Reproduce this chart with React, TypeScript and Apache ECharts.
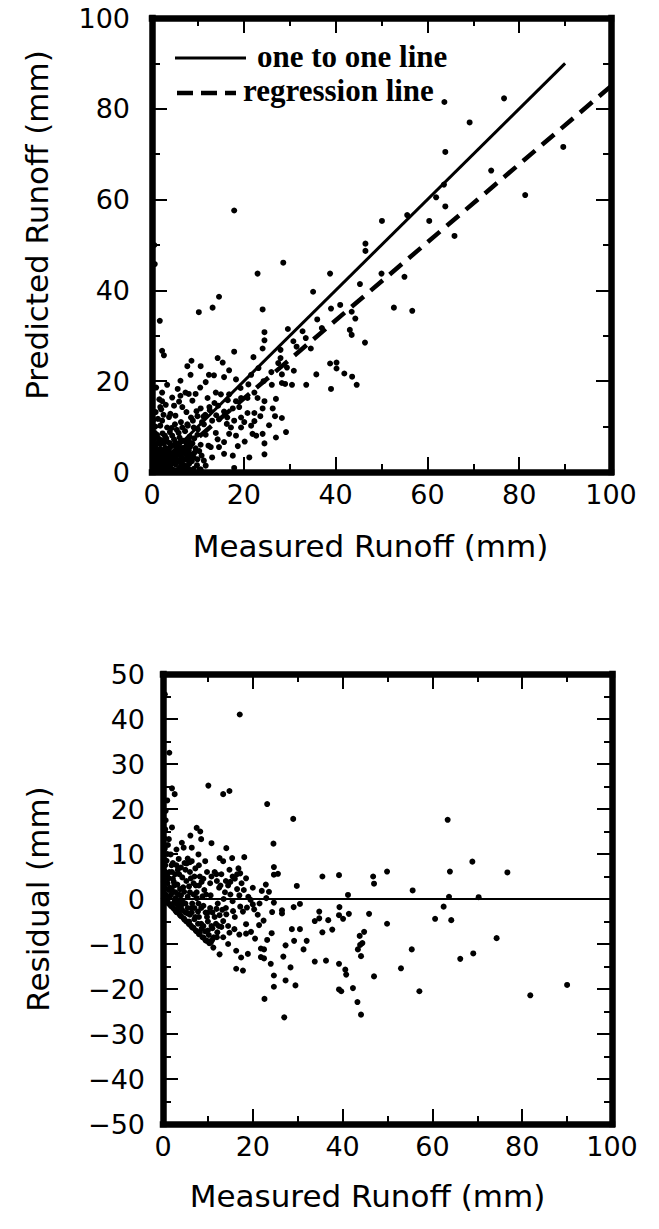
import React, { useEffect, useRef } from "react";
import * as echarts from "echarts";

// ---------- data ----------
// Top panel: [measured runoff, predicted runoff] (mm)
const topUpper: number[][] = [
  [17.9, 57.6], [63.7, 81.5], [76.7, 82.3], [69.2, 77.0], [63.9, 70.5], [89.6, 71.6],
  [73.9, 66.4], [81.3, 61.0], [63.6, 63.3], [63.9, 58.5], [61.9, 60.5], [60.4, 55.3],
  [55.6, 56.6], [50.1, 55.3], [65.9, 52.0], [46.5, 50.3], [46.5, 48.7], [50.0, 43.7],
  [55.0, 43.0], [52.7, 36.2], [56.7, 35.5], [0.5, 50.0], [0.6, 45.8],
];
const topMid: number[][] = [
  [28.6, 46.1], [23.0, 43.7], [38.8, 43.7], [35.1, 39.7], [45.3, 41.4], [14.6, 38.6],
  [13.2, 36.2], [10.2, 35.2], [24.1, 35.8], [1.7, 33.3], [41.0, 36.8], [39.0, 36.0],
  [43.5, 35.3], [44.3, 33.8], [43.1, 31.3], [43.5, 30.2], [46.4, 28.5], [29.6, 31.5],
  [24.5, 30.8], [24.5, 29.0], [24.1, 27.2], [17.9, 26.5], [2.2, 26.7], [2.6, 25.7],
  [22.1, 25.3], [23.2, 22.9], [28.0, 26.9], [28.0, 25.1], [34.6, 27.2], [28.3, 21.5],
  [29.4, 23.0], [30.9, 22.3], [14.3, 25.1], [15.4, 24.1], [16.8, 22.4], [15.7, 20.9],
  [10.6, 23.3], [7.7, 23.3], [8.4, 21.4], [6.2, 20.1], [12.4, 21.4], [13.5, 21.3],
  [18.3, 20.4], [21.6, 21.4], [38.8, 23.9], [40.2, 24.1], [40.2, 22.8], [41.9, 21.7],
  [43.6, 21.0], [44.6, 19.2], [39.0, 18.3], [35.8, 21.5], [33.6, 19.2], [28.3, 19.6],
  [29.0, 19.4], [30.5, 19.2], [26.1, 19.2], [24.3, 20.0], [26.0, 22.0], [27.5, 24.0],
  [31.5, 27.6], [33.5, 29.5], [37.0, 31.7], [36.0, 33.6], [32.8, 31.0], [30.8, 28.8],
];
const topLow: number[][] = [
  [2.2, 17.5], [4.4, 16.4], [7.3, 17.5], [6.2, 16.8], [8.0, 17.2], [9.5, 17.2],
  [8.8, 15.7], [6.6, 14.3], [5.1, 12.4], [3.7, 12.1], [1.8, 14.3], [2.2, 11.3],
  [12.1, 16.3], [13.9, 17.5], [15.0, 17.1], [16.8, 17.1], [18.3, 15.6], [19.4, 16.3],
  [20.8, 16.3], [22.3, 17.5], [23.0, 16.3], [24.5, 15.6], [27.0, 16.1], [26.3, 14.0],
  [24.1, 14.0], [22.3, 13.0], [20.8, 13.0], [23.6, 12.3], [26.8, 12.3], [28.3, 11.9],
  [17.6, 14.0], [15.7, 13.3], [14.0, 12.5], [12.6, 13.6], [10.6, 14.0], [9.9, 12.3],
  [8.5, 12.0], [7.7, 10.5], [9.1, 9.8], [11.3, 10.5], [13.1, 11.3], [14.6, 11.6],
  [16.4, 12.0], [17.9, 11.3], [19.4, 12.0], [17.2, 9.8], [16.8, 8.4], [18.3, 8.0],
  [19.4, 9.8], [20.1, 11.0], [21.6, 10.2], [21.9, 8.4], [22.7, 8.0], [24.1, 8.4],
  [24.5, 6.3], [27.0, 7.6], [29.2, 8.8], [18.7, 5.7], [17.6, 3.6], [24.5, 3.9],
  [21.2, 3.2], [17.9, 0.9], [13.6, 15.2], [11.2, 12.2], [14.4, 14.6], [16.5, 15.8],
  [19.3, 18.5], [21.0, 19.3], [12.3, 5.8], [10.3, 4.6], [14.3, 7.2], [16.3, 10.6],
  [19.0, 14.3], [20.2, 6.7], [22.3, 11.2], [25.5, 10.3], [10.5, 18.6], [11.7, 19.8],
  [8.6, 24.5], [3.3, 19.2], [5.6, 18.3], [0.9, 18.6], [1.6, 16.0],
];
const topCluster: number[][] = [
  [1.8, 6.2], [4.0, 5.5], [6.2, 6.6], [8.0, 7.0], [9.9, 8.2], [11.7, 8.2], [13.9, 8.6],
  [10.6, 6.0], [12.8, 5.5], [14.6, 5.5], [15.7, 6.6], [15.7, 4.0], [13.1, 3.2], [11.3, 2.5],
  [9.1, 3.2], [6.9, 2.8], [4.7, 2.5], [3.3, 4.0], [1.8, 2.5], [1.1, 1.1], [4.0, 0.7],
  [6.2, 1.1], [9.1, 0.7], [11.7, 1.4], [0.4, 4.0], [0.7, 10.0], [1.1, 8.2],
  [0.3, 0.3], [1.2, 0.4], [2.3, 0.3], [3.2, 0.6], [5.2, 0.4], [7.1, 0.3], [8.2, 0.5],
  [0.4, 1.3], [2.0, 1.4], [3.0, 1.5], [4.1, 1.6], [5.1, 1.7], [7.2, 1.4], [8.1, 1.8],
  [0.3, 2.3], [1.2, 2.2], [2.6, 2.4], [3.6, 2.5], [5.6, 2.6], [7.8, 2.6], [0.8, 3.2],
  [1.9, 3.4], [2.5, 3.3], [4.3, 3.4], [5.4, 3.6], [6.3, 3.5], [7.5, 3.8], [8.5, 3.9],
  [1.3, 4.4], [2.4, 4.6], [4.9, 4.5], [5.9, 4.7], [6.8, 4.2], [0.3, 5.2], [2.9, 5.3],
  [5.2, 5.5], [7.1, 5.4], [8.3, 5.6], [0.9, 6.0], [2.6, 6.3], [3.8, 6.4], [7.4, 6.5],
  [0.4, 7.1], [1.5, 7.3], [3.1, 7.4], [4.8, 7.2], [6.0, 7.6], [9.2, 7.4], [0.6, 8.6],
  [2.3, 8.5], [3.9, 8.8], [5.8, 8.6], [7.2, 9.0], [10.0, 9.4], [0.3, 11.5], [1.8, 10.2],
  [3.3, 9.8], [5.0, 10.5], [6.3, 11.0], [4.0, 12.8], [2.5, 12.6], [0.8, 13.2],
  [0.5, 0.8], [1.6, 0.9], [2.8, 0.9], [3.9, 1.1], [4.6, 0.5], [5.9, 0.8], [6.6, 0.4],
  [7.7, 1.0], [9.8, 1.5], [10.6, 0.6], [1.0, 1.8], [2.5, 1.9], [3.5, 2.0], [4.5, 2.1],
  [6.1, 2.1], [6.7, 1.7], [8.7, 2.4], [9.9, 2.8], [10.8, 3.6], [0.6, 2.8], [1.5, 2.9],
  [3.1, 2.9], [4.0, 2.9], [5.0, 3.0], [6.6, 3.0], [7.2, 2.8], [8.1, 3.1], [9.3, 4.3],
  [0.3, 3.7], [1.1, 3.9], [2.0, 4.1], [3.0, 4.3], [3.7, 4.6], [4.5, 4.0], [5.5, 4.2],
  [6.3, 4.4], [7.4, 4.6], [8.0, 4.8], [9.5, 5.2], [1.0, 5.0], [1.8, 5.1], [3.5, 5.1],
  [4.2, 5.9], [6.5, 5.3], [7.6, 5.9], [8.8, 6.3], [1.4, 6.6], [2.1, 7.0], [3.2, 6.8],
  [5.1, 6.5], [5.6, 5.8], [6.8, 6.9], [8.2, 7.8], [1.0, 7.8], [2.8, 8.0], [4.4, 8.0],
  [5.4, 9.3], [6.6, 9.8], [7.8, 10.2], [8.9, 11.3], [10.9, 11.0], [11.6, 12.6],
  [12.5, 14.3], [9.7, 13.4], [3.0, 14.8], [2.2, 15.6], [4.8, 14.6], [5.9, 15.5],
  [7.5, 13.2], [4.3, 9.7], [1.3, 11.7], [2.0, 13.8],
];

// Reference lines of the top panel
const oneToOneX = [0, 90];
const oneToOneY = [0, 90];
const regressionX = [2, 100];
const regressionY = [0.7, 85];

// Bottom panel: [measured runoff, residual] (mm)
const resOuter: number[][] = [
  [17.1, 41.0], [1.4, 32.5], [0.4, 45.5], [49.9, 6.1], [55.6, 1.9], [63.4, 17.6],
  [63.9, 6.1], [68.9, 8.3], [63.7, 0.5], [70.3, 0.4], [76.7, 5.9], [62.5, -1.7],
  [60.6, -4.4], [64.2, -4.7], [74.3, -8.7], [66.2, -13.3], [69.1, -12.1], [81.8, -21.4],
  [90.0, -19.1], [55.4, -11.2], [53.0, -15.4], [57.1, -20.5], [49.9, -5.5], [44.1, -25.7],
  [43.3, -22.9], [27.0, -26.3], [22.6, -22.2],
];
const resMid: number[][] = [
  [10.1, 25.2], [13.4, 23.3], [14.8, 24.0], [23.2, 21.1], [29.0, 17.8], [2.0, 24.6],
  [2.6, 23.3], [0.95, 21.9], [2.0, 15.9], [1.3, 13.3], [0.6, 19.6], [7.5, 15.8],
  [8.3, 15.0], [6.1, 14.1], [4.2, 12.5], [4.6, 11.4], [6.4, 11.4], [8.5, 13.3],
  [10.8, 12.4], [14.1, 11.3], [7.9, 9.9], [6.4, 8.4], [5.3, 7.9], [3.5, 8.9],
  [1.7, 9.9], [9.4, 8.4], [12.6, 9.1], [13.4, 8.4], [15.4, 9.1], [18.1, 9.3],
  [24.6, 12.3], [24.7, 7.1], [24.7, 5.4], [25.6, 5.6], [16.5, 5.5], [17.2, 5.7],
  [22.9, 3.2], [23.6, 1.6], [29.8, 2.9], [35.5, 5.0], [39.2, 5.3], [46.8, 5.0],
  [47.0, 3.4], [41.2, 0.9], [29.1, -1.8], [30.5, -1.1], [24.3, -2.9], [26.5, -2.5],
  [26.5, -3.2], [34.8, -2.8], [34.8, -4.3], [36.8, -4.7], [39.3, -1.8], [39.2, -3.6],
  [41.4, -3.3], [40.1, -4.4], [45.9, -3.3], [35.5, -7.4], [37.7, -6.8], [43.9, -10.2],
  [43.8, -8.2], [44.8, -7.3], [28.7, -6.7], [29.2, -9.3], [30.5, -6.7], [32.0, -9.3],
  [31.3, -11.2], [27.3, -10.3], [26.8, -12.8], [28.4, -15.2], [24.7, -17.0], [24.7, -19.5],
  [27.3, -18.1], [29.5, -19.2], [24.0, -14.4], [22.5, -11.2], [22.5, -13.2], [21.8, -11.0],
  [24.2, -7.6], [23.2, -9.1], [21.4, -5.8], [22.4, -4.8], [20.5, -8.8], [19.6, -7.3],
  [18.5, -5.6], [21.1, -3.5], [20.3, -2.3], [24.7, -0.8], [18.7, -1.9], [20.0, -1.2],
  [17.2, -1.7], [17.8, -2.8], [15.6, -2.7], [14.1, -3.4], [13.4, -4.9], [14.5, -6.0],
  [15.9, -6.7], [17.0, -7.9], [18.5, -7.7], [14.8, -7.5], [13.4, -8.5], [12.1, -7.4],
  [10.8, -9.3], [11.2, -10.8], [12.6, -12.3], [14.5, -10.0], [16.3, -11.5], [17.4, -13.0],
  [18.9, -12.2], [16.3, -15.5], [17.8, -15.9], [21.8, -12.9], [33.8, -13.9], [36.3, -13.7],
  [39.2, -14.4], [40.6, -15.7], [40.8, -16.8], [39.2, -20.1], [39.7, -20.5], [42.3, -19.8],
  [43.4, -11.2], [44.1, -12.7], [47.0, -17.2], [44.4, -9.8], [33.8, -4.9],
];
const resCluster: number[][] = [
  [0.2, 0.1], [0.3, 2.5], [0.4, 5.0], [0.5, 7.5], [0.3, -0.2], [0.6, 1.0], [0.8, -0.6],
  [1.0, 3.5], [1.2, -1.0], [1.4, 6.0], [1.5, 0.5], [1.8, -1.6], [2.0, 2.0], [2.2, 4.5],
  [2.5, -2.2], [2.6, -0.5], [2.8, 1.5], [3.0, -2.9], [3.2, 3.2], [3.5, -1.5], [3.6, 5.5],
  [3.8, -3.6], [4.0, 0.8], [4.3, -2.5], [4.5, 2.6], [4.8, -4.6], [5.0, -1.0], [5.2, 4.0],
  [5.5, -3.2], [5.8, -5.6], [6.0, 1.5], [6.3, -2.0], [6.5, -6.3], [6.8, 3.5], [7.0, -4.5],
  [7.3, -7.0], [7.5, 0.2], [7.8, -2.8], [8.0, -7.8], [8.2, 5.0], [8.5, -5.5], [8.8, -8.5],
  [9.0, -1.5], [9.2, 2.0], [9.5, -9.2], [9.8, -4.0], [10.0, -7.0], [10.3, -9.8], [10.6, 0.8],
  [11.0, -3.0], [11.3, -8.5], [11.8, -5.5], [12.2, -1.0], [12.5, 2.5], [13.0, -6.2],
  [13.5, 0.0], [14.0, -2.0], [15.0, 1.0], [16.0, -4.0], [16.5, 2.2], [19.0, 0.5],
  [21.5, -1.0], [23.0, 0.2], [1.0, 10.0], [2.2, 8.0], [3.0, 11.0], [4.0, 7.0],
  [5.5, 9.0], [9.0, 4.5], [10.5, 3.5], [11.5, 6.0], [12.0, 4.0], [13.0, 5.5],
  [14.5, 3.0], [15.5, 5.0], [17.5, 3.5], [20.0, 2.5], [22.0, 1.8], [1.0, -0.2],
  [2.0, -1.2], [3.0, -1.0], [4.0, -2.0], [5.0, -3.0], [6.0, -3.5], [7.0, -2.0],
  [8.0, -4.0], [9.0, -6.0], [10.0, -5.0], [11.0, -6.5], [12.0, -8.5], [1.5, 2.5],
  [2.5, 3.0], [3.5, 1.0], [4.5, -0.8], [5.5, 0.5], [6.5, -1.0], [7.5, 1.5],
  [8.5, -2.0], [9.5, -3.0], [10.5, -2.0], [1.2, 4.5], [2.0, 6.0], [3.0, 7.5],
  [6.0, 6.0], [7.0, 5.0], [8.0, 3.0],
  [0.2, 3.8], [0.3, 6.2], [0.2, 8.8], [0.4, 11.2], [0.3, 13.5], [0.5, 15.5], [0.6, 17.5],
  [0.8, 8.5], [1.0, 5.5], [1.1, 12.0], [1.3, 2.0], [0.5, -0.5], [0.7, -0.5], [1.5, -1.2],
  [2.2, -1.9], [2.8, -2.6], [3.4, -3.1], [4.0, -3.8], [4.6, -4.3], [5.2, -5.0], [5.8, -5.0],
  [6.2, -5.9], [6.8, -6.4], [7.5, -7.2], [8.2, -7.5], [9.0, -8.6], [9.8, -9.3], [10.6, -9.7],
  [11.0, -9.0], [3.4, -2.0], [4.2, -1.2], [5.5, -2.0], [6.4, -3.0], [7.2, -4.0], [7.8, -5.5],
  [8.6, -6.6], [9.4, -7.2], [10.2, -8.0], [10.8, -6.0], [11.5, -4.0], [12.4, -6.0],
  [12.6, -3.6], [13.2, -2.4], [11.9, -2.2], [2.8, 0.2], [3.6, -0.3], [4.7, 1.6], [5.8, 2.8],
  [6.8, 1.0], [7.9, -1.0], [8.8, 0.6], [9.6, 1.0], [10.0, -3.0], [1.8, 1.0], [2.4, 3.8],
  [3.8, 2.2], [4.3, 4.8], [5.0, 6.5], [6.2, 4.6], [7.3, 3.0], [8.6, 3.8], [2.7, 5.5],
  [1.9, 7.5], [3.3, 6.5], [4.8, 8.0], [6.0, 8.2], [7.2, 6.8], [8.0, 7.5], [9.8, 6.0],
  [10.8, 5.0], [11.9, 5.5], [12.8, 3.0], [14.0, 4.0], [15.0, 3.8], [16.0, 4.5], [14.8, 6.5],
  [16.8, 6.8], [18.5, 4.6], [13.8, 1.5], [15.5, -0.5], [17.0, 0.8], [18.0, 2.0], [19.5, -0.2],
];
const zeroLineX = [0, 100];
const zeroLineY = [0, 0];

// Axis ranges and tick spacing
const xRange = [0, 100];
const xStep = 20;
const topYRange = [0, 100];
const topYStep = 20;
const resYRange = [-50, 50];
const resYStep = 10;

// Texts
const legendLabels = ["one to one line", "regression line"];
const xTitle = "Measured Runoff (mm)";
const topYTitle = "Predicted Runoff (mm)";
const resYTitle = "Residual (mm)";

// ---------- styling ----------
const FONT = "DejaVu Sans";
const tickStyle = { color: "#000", width: 2 };
const fmt = (v: number) => (v < 0 ? "\u2212" + Math.abs(v) : String(v));

function makeAxis(
  gridIndex: number,
  position: string,
  range: number[],
  interval: number,
  showLabels: boolean,
  labelMargin: number,
  name?: string,
  nameGap?: number,
  namePadding?: number[]
) {
  return {
    type: "value",
    gridIndex,
    position,
    min: range[0],
    max: range[1],
    interval,
    axisLine: { show: true, onZero: false, lineStyle: { color: "#000", width: 6.5, cap: "square" } },
    axisTick: { show: true, inside: true, length: 15, lineStyle: tickStyle },
    minorTick: { show: true, splitNumber: 2, length: 8, lineStyle: tickStyle },
    splitLine: { show: false },
    minorSplitLine: { show: false },
    axisLabel: {
      show: showLabels,
      margin: labelMargin,
      color: "#000",
      fontFamily: FONT,
      fontSize: 27,
      formatter: fmt,
    },
    name: name || "",
    nameLocation: "middle",
    nameGap: nameGap || 0,
    nameTextStyle: {
      color: "#000",
      fontFamily: FONT,
      fontSize: 31,
      padding: namePadding || [0, 0, 0, 0],
    },
  };
}

const toPairs = (xs: number[], ys: number[]) => xs.map((x, i) => [x, ys[i]]);

export default function App() {
  const ref = useRef<HTMLDivElement>(null);
  useEffect(() => {
    if (!ref.current) return;
    const chart = echarts.init(ref.current, null, { renderer: "svg" });
    const legendFont = { fontFamily: "Liberation Serif", fontSize: 31, fontWeight: "bold", fill: "#000", verticalAlign: "middle" };
    const option: any = {
      animation: false,
      backgroundColor: "#fff",
      grid: [
        { left: 152, top: 18, width: 459, height: 454 },
        { left: 163, top: 674, width: 449, height: 450 },
      ],
      xAxis: [
        makeAxis(0, "bottom", xRange, xStep, true, 9, xTitle, 58, [0, 22, 0, 0]),
        makeAxis(0, "top", xRange, xStep, false, 0),
        makeAxis(1, "bottom", xRange, xStep, true, 9, xTitle, 56, [0, 40, 0, 0]),
        makeAxis(1, "top", xRange, xStep, false, 0),
      ],
      yAxis: [
        makeAxis(0, "left", topYRange, topYStep, true, 22, topYTitle, 100, [0, 0, 0, 40]),
        makeAxis(0, "right", topYRange, topYStep, false, 0),
        makeAxis(1, "left", resYRange, resYStep, true, 18, resYTitle, 110),
        makeAxis(1, "right", resYRange, resYStep, false, 0),
      ],
      series: [
        {
          type: "scatter",
          xAxisIndex: 0,
          yAxisIndex: 0,
          symbolSize: 6,
          itemStyle: { color: "#000", opacity: 1 },
          data: [...topUpper, ...topMid, ...topLow, ...topCluster],
        },
        {
          type: "line",
          xAxisIndex: 0,
          yAxisIndex: 0,
          showSymbol: false,
          lineStyle: { color: "#000", width: 3 },
          data: toPairs(oneToOneX, oneToOneY),
        },
        {
          type: "line",
          xAxisIndex: 0,
          yAxisIndex: 0,
          showSymbol: false,
          lineStyle: { color: "#000", width: 4.5, type: [16, 9] },
          data: toPairs(regressionX, regressionY),
        },
        {
          type: "scatter",
          xAxisIndex: 2,
          yAxisIndex: 2,
          symbolSize: 6,
          itemStyle: { color: "#000", opacity: 1 },
          data: [...resOuter, ...resMid, ...resCluster],
        },
        {
          type: "line",
          xAxisIndex: 2,
          yAxisIndex: 2,
          showSymbol: false,
          lineStyle: { color: "#000", width: 2 },
          data: toPairs(zeroLineX, zeroLineY),
        },
      ],
      graphic: [
        {
          type: "line",
          shape: { x1: 175, y1: 58, x2: 246, y2: 58 },
          style: { stroke: "#000", lineWidth: 3 },
        },
        {
          type: "text",
          x: 257,
          y: 56,
          style: { text: legendLabels[0], ...legendFont },
        },
        {
          type: "line",
          shape: { x1: 177, y1: 93, x2: 236, y2: 93 },
          style: { stroke: "#000", lineWidth: 4.5, lineDash: [16, 8] },
        },
        {
          type: "text",
          x: 243,
          y: 90,
          style: { text: legendLabels[1], ...legendFont },
        },
      ],
    };
    chart.setOption(option);
    return () => chart.dispose();
  }, []);
  return (
    <div
      ref={ref}
      style={{ position: "absolute", left: 0, top: 0, width: 659, height: 1229, background: "#fff" }}
    />
  );
}
